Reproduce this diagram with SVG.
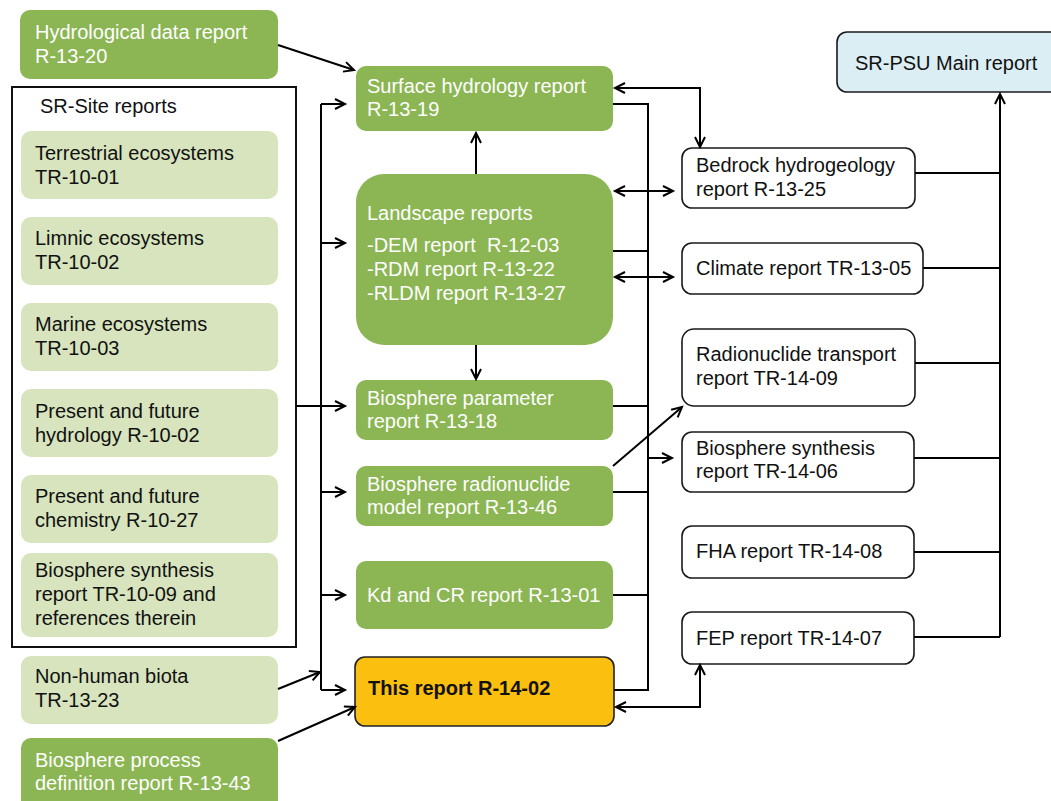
<svg xmlns="http://www.w3.org/2000/svg" width="1051" height="801" viewBox="0 0 1051 801">
  <style>
    text { font-family: "Liberation Sans", Arial, sans-serif; font-size: 20px; }
    .g { fill: #8BB653; }
    .lg { fill: #D7E4BD; }
    .w { fill: #ffffff; stroke: #1a1a1a; stroke-width: 1.6; }
    .wt { fill: #ffffff; }
    .bt { fill: #111111; }
    .frame { fill: none; stroke: #111111; stroke-width: 2; }
    .c { fill: none; stroke: #000000; stroke-width: 2; }
    .a { marker-end: url(#arr); }
    .aa { marker-start: url(#arr); marker-end: url(#arr); }
  </style>
  <defs>
    <marker id="arr" markerUnits="userSpaceOnUse" markerWidth="14" markerHeight="14" refX="11" refY="6" orient="auto-start-reverse">
      <path d="M1,1 L11,6 L1,11" fill="none" stroke="#000" stroke-width="2"/>
    </marker>
  </defs>

  <!-- SR-Site frame -->
  <g id="sr-site">
    <rect class="frame" x="12" y="87" width="284" height="560"/>
    <text class="bt" x="40" y="113">SR-Site reports</text>
  </g>

  <g id="hydro-data">
    <rect class="g" x="20" y="10" width="258" height="69" rx="10"/>
    <text class="wt" x="35" y="39">Hydrological data report</text>
    <text class="wt" x="35" y="63">R-13-20</text>
  </g>

  <g id="terrestrial">
    <rect class="lg" x="21" y="131" width="257" height="68" rx="10"/>
    <text class="bt" x="35" y="160">Terrestrial ecosystems</text>
    <text class="bt" x="35" y="184">TR-10-01</text>
  </g>
  <g id="limnic">
    <rect class="lg" x="21" y="217" width="257" height="68" rx="10"/>
    <text class="bt" x="35" y="245">Limnic ecosystems</text>
    <text class="bt" x="35" y="269">TR-10-02</text>
  </g>
  <g id="marine">
    <rect class="lg" x="21" y="303" width="257" height="68" rx="10"/>
    <text class="bt" x="35" y="331">Marine ecosystems</text>
    <text class="bt" x="35" y="355">TR-10-03</text>
  </g>
  <g id="pf-hydrology">
    <rect class="lg" x="21" y="389" width="257" height="68" rx="10"/>
    <text class="bt" x="35" y="418">Present and future</text>
    <text class="bt" x="35" y="442">hydrology R-10-02</text>
  </g>
  <g id="pf-chemistry">
    <rect class="lg" x="21" y="475" width="257" height="68" rx="10"/>
    <text class="bt" x="35" y="503">Present and future</text>
    <text class="bt" x="35" y="527">chemistry R-10-27</text>
  </g>
  <g id="bio-synth-site">
    <rect class="lg" x="21" y="553" width="257" height="84" rx="10"/>
    <text class="bt" x="35" y="577">Biosphere synthesis</text>
    <text class="bt" x="35" y="601">report TR-10-09 and</text>
    <text class="bt" x="35" y="625">references therein</text>
  </g>
  <g id="non-human">
    <rect class="lg" x="21" y="656" width="257" height="68" rx="10"/>
    <text class="bt" x="35" y="683">Non-human biota</text>
    <text class="bt" x="35" y="707">TR-13-23</text>
  </g>
  <g id="process-def">
    <rect class="g" x="21" y="738" width="257" height="72" rx="10"/>
    <text class="wt" x="35" y="767">Biosphere process</text>
    <text class="wt" x="35" y="790">definition report R-13-43</text>
  </g>

  <g id="surface-hydrology">
    <rect class="g" x="356" y="66" width="257" height="65" rx="10"/>
    <text class="wt" x="367" y="93">Surface hydrology report</text>
    <text class="wt" x="367" y="116">R-13-19</text>
  </g>
  <g id="landscape">
    <rect class="g" x="356" y="174" width="257" height="171" rx="28"/>
    <text class="wt" x="367" y="220">Landscape reports</text>
    <text class="wt" x="367" y="252" xml:space="preserve">-DEM report  R-12-03</text>
    <text class="wt" x="367" y="276">-RDM report R-13-22</text>
    <text class="wt" x="367" y="300">-RLDM report R-13-27</text>
  </g>
  <g id="bio-param">
    <rect class="g" x="356" y="380" width="257" height="60" rx="10"/>
    <text class="wt" x="367" y="405">Biosphere parameter</text>
    <text class="wt" x="367" y="428">report R-13-18</text>
  </g>
  <g id="bio-rn-model">
    <rect class="g" x="356" y="466" width="257" height="60" rx="10"/>
    <text class="wt" x="367" y="491">Biosphere radionuclide</text>
    <text class="wt" x="367" y="514">model report R-13-46</text>
  </g>
  <g id="kd-cr">
    <rect class="g" x="356" y="561" width="257" height="68" rx="10"/>
    <text class="wt" x="367" y="602">Kd and CR report R-13-01</text>
  </g>
  <g id="this-report">
    <rect x="355" y="657" width="259" height="69" rx="10" fill="#FBBF10" stroke="#222" stroke-width="1.6"/>
    <text class="bt" x="368" y="695" font-weight="bold">This report R-14-02</text>
  </g>

  <g id="main-report">
    <rect x="837" y="32" width="230" height="60" rx="10" fill="#DBEEF4" stroke="#1a1a1a" stroke-width="1.6"/>
    <text class="bt" x="855" y="70">SR-PSU Main report</text>
  </g>
  <g id="bedrock">
    <rect class="w" x="682" y="148" width="233" height="60" rx="10"/>
    <text class="bt" x="696" y="172">Bedrock hydrogeology</text>
    <text class="bt" x="696" y="196">report R-13-25</text>
  </g>
  <g id="climate">
    <rect class="w" x="682" y="243" width="241" height="51" rx="10"/>
    <text class="bt" x="696" y="275">Climate report TR-13-05</text>
  </g>
  <g id="rn-transport">
    <rect class="w" x="682" y="329" width="233" height="77" rx="12"/>
    <text class="bt" x="696" y="361">Radionuclide transport</text>
    <text class="bt" x="696" y="385">report TR-14-09</text>
  </g>
  <g id="bio-synthesis">
    <rect class="w" x="682" y="432" width="232" height="60" rx="10"/>
    <text class="bt" x="696" y="455">Biosphere synthesis</text>
    <text class="bt" x="696" y="478">report TR-14-06</text>
  </g>
  <g id="fha">
    <rect class="w" x="682" y="526" width="232" height="52" rx="10"/>
    <text class="bt" x="696" y="558">FHA report TR-14-08</text>
  </g>
  <g id="fep">
    <rect class="w" x="682" y="612" width="232" height="52" rx="10"/>
    <text class="bt" x="696" y="645">FEP report TR-14-07</text>
  </g>

  <g id="connectors">
    <!-- inputs on the left -->
    <path class="c a" d="M278,45 L354,70"/>
    <path class="c" d="M321,104 V690"/>
    <path class="c a" d="M321,104 H345"/>
    <path class="c a" d="M321,243 H345"/>
    <path class="c a" d="M296,406 H345"/>
    <path class="c a" d="M321,492 H345"/>
    <path class="c a" d="M321,595 H345"/>
    <path class="c a" d="M321,690 H345"/>
    <path class="c a" d="M278,689 L320,672"/>
    <path class="c a" d="M278,741 L355,707"/>
    <!-- landscape outputs -->
    <path class="c a" d="M476,174 V133"/>
    <path class="c a" d="M476,345 V379"/>
    <!-- collector into biosphere synthesis -->
    <path class="c" d="M613,104 H648 V690 H614"/>
    <path class="c" d="M613,251 H648"/>
    <path class="c" d="M613,406 H648"/>
    <path class="c" d="M613,492 H648"/>
    <path class="c" d="M613,595 H648"/>
    <path class="c a" d="M648,458 H672"/>
    <!-- two-way links -->
    <path class="c aa" d="M615,88 H700 V147"/>
    <path class="c aa" d="M615,191 H673"/>
    <path class="c aa" d="M615,277 H673"/>
    <path class="c aa" d="M616,707 H700 V665"/>
    <path class="c a" d="M613,466 L682,407"/>
    <!-- collector into main report -->
    <path class="c a" d="M1000,637 V94"/>
    <path class="c" d="M915,173 H1000"/>
    <path class="c" d="M923,268 H1000"/>
    <path class="c" d="M915,363 H1000"/>
    <path class="c" d="M914,458 H1000"/>
    <path class="c" d="M914,552 H1000"/>
    <path class="c" d="M914,637 H1000"/>
  </g>
</svg>
